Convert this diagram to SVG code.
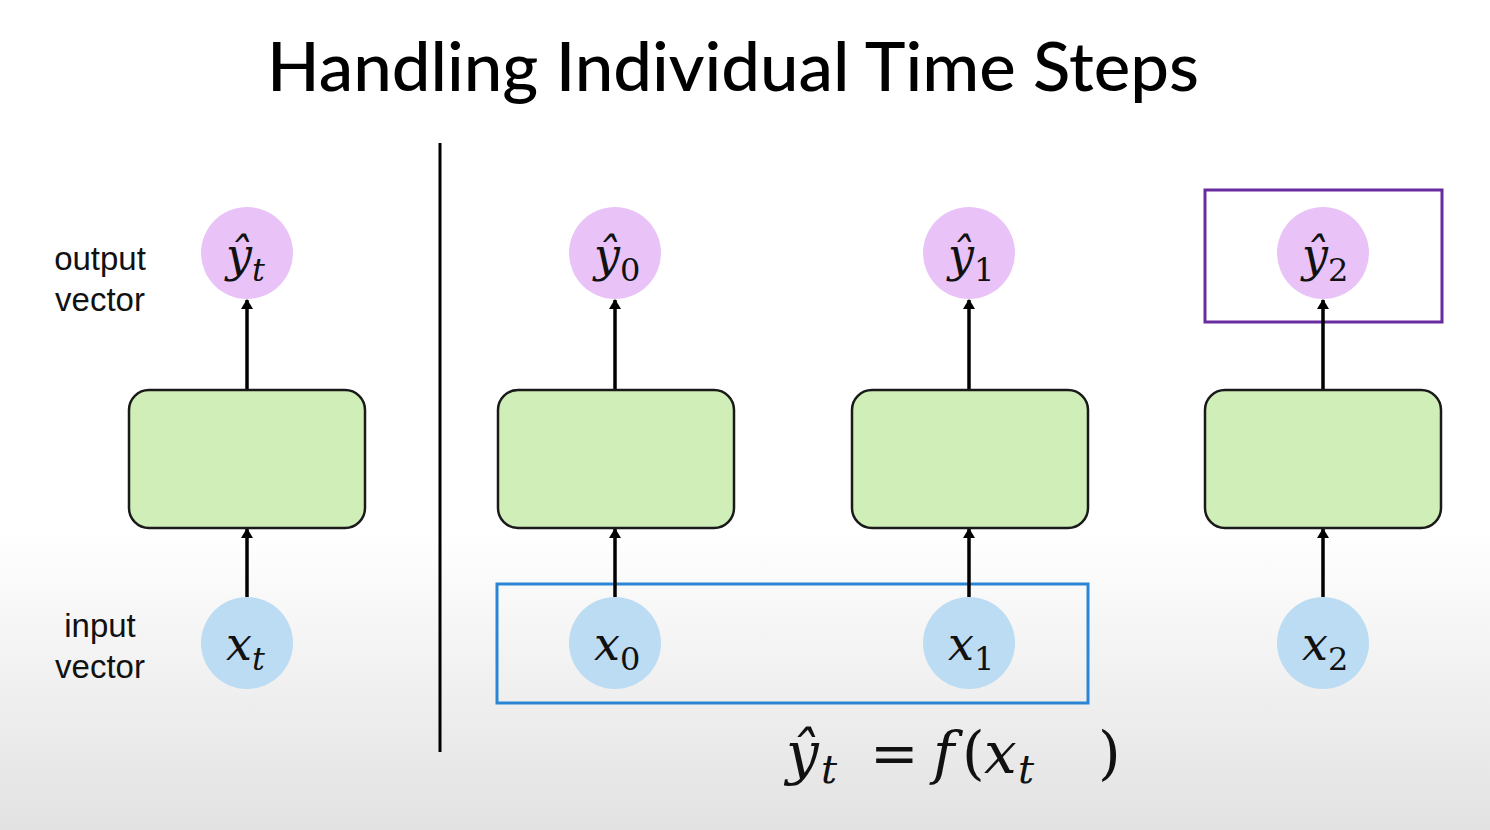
<svg xmlns="http://www.w3.org/2000/svg" width="1490" height="830" viewBox="0 0 1490 830">
<defs>
<linearGradient id="bg" x1="0" y1="0" x2="0" y2="1">
<stop offset="0" stop-color="#ffffff"/>
<stop offset="0.64" stop-color="#ffffff"/>
<stop offset="1" stop-color="#e2e2e2"/>
</linearGradient>
<marker id="ah" viewBox="0 0 10 12" refX="9" refY="6" markerWidth="11" markerHeight="12" markerUnits="userSpaceOnUse" orient="auto">
<path d="M0,0 L10,6 L0,12 z" fill="#000"/>
</marker>
</defs>
<style>
.box{fill:#d0efb8;stroke:#1a1a1a;stroke-width:2.5}
.out{fill:#e9c3f7}
.in{fill:#bcdcf3}
.lbl{font-family:"Liberation Sans",Arial,sans-serif;font-size:33px;fill:#111;text-anchor:middle}
.m{font-family:"DejaVu Serif","Liberation Serif",serif;fill:#111}
.it{font-style:italic}
.edge{stroke:#000;stroke-width:3.5;fill:none;marker-end:url(#ah)}
</style>
<rect width="1490" height="830" fill="url(#bg)"/>
<text x="733" y="91" font-family="Lato,'Open Sans',sans-serif" font-size="68" font-weight="500" fill="#000" text-anchor="middle" textLength="932" lengthAdjust="spacingAndGlyphs">Handling Individual Time Steps</text>
<line x1="440" y1="143" x2="440" y2="752" stroke="#000" stroke-width="3"/>
<text class="lbl" x="100" y="270">output</text>
<text class="lbl" x="100" y="311">vector</text>
<text class="lbl" x="100" y="637">input</text>
<text class="lbl" x="100" y="678">vector</text>
<rect x="1205" y="190" width="237" height="132" fill="none" stroke="#6a2aa0" stroke-width="3"/>
<rect x="497" y="584" width="591" height="119" fill="none" stroke="#2a86d4" stroke-width="3"/>
<g id="connectors">
<line class="edge" x1="247" y1="390" x2="247" y2="300"/>
<line class="edge" x1="247" y1="597" x2="247" y2="529"/>
<line class="edge" x1="615" y1="390" x2="615" y2="300"/>
<line class="edge" x1="615" y1="597" x2="615" y2="529"/>
<line class="edge" x1="969" y1="390" x2="969" y2="300"/>
<line class="edge" x1="969" y1="597" x2="969" y2="529"/>
<line class="edge" x1="1323" y1="390" x2="1323" y2="300"/>
<line class="edge" x1="1323" y1="597" x2="1323" y2="529"/>
</g>
<g id="cell-t"><rect class="box" x="129" y="390" width="236" height="138" rx="20"/></g>
<g id="cell-0"><rect class="box" x="498" y="390" width="236" height="138" rx="20"/></g>
<g id="cell-1"><rect class="box" x="852" y="390" width="236" height="138" rx="20"/></g>
<g id="cell-2"><rect class="box" x="1205" y="390" width="236" height="138" rx="20"/></g>
<g id="yt"><circle class="out" cx="247" cy="253" r="46"/><text class="m" x="226" y="271" font-size="46"><tspan class="it">ŷ</tspan><tspan class="it" font-size="32" dy="10">t</tspan></text></g>
<g id="y0"><circle class="out" cx="615" cy="253" r="46"/><text class="m" x="594" y="271" font-size="46"><tspan class="it">ŷ</tspan><tspan font-size="32" dy="10">0</tspan></text></g>
<g id="y1"><circle class="out" cx="969" cy="253" r="46"/><text class="m" x="948" y="271" font-size="46"><tspan class="it">ŷ</tspan><tspan font-size="32" dy="10">1</tspan></text></g>
<g id="y2"><circle class="out" cx="1323" cy="253" r="46"/><text class="m" x="1302" y="271" font-size="46"><tspan class="it">ŷ</tspan><tspan font-size="32" dy="10">2</tspan></text></g>
<g id="xt"><circle class="in" cx="247" cy="643" r="46"/><text class="m" x="226" y="660" font-size="46"><tspan class="it">x</tspan><tspan class="it" font-size="32" dy="10">t</tspan></text></g>
<g id="x0"><circle class="in" cx="615" cy="643" r="46"/><text class="m" x="594" y="660" font-size="46"><tspan class="it">x</tspan><tspan font-size="32" dy="10">0</tspan></text></g>
<g id="x1"><circle class="in" cx="969" cy="643" r="46"/><text class="m" x="948" y="660" font-size="46"><tspan class="it">x</tspan><tspan font-size="32" dy="10">1</tspan></text></g>
<g id="x2"><circle class="in" cx="1323" cy="643" r="46"/><text class="m" x="1302" y="660" font-size="46"><tspan class="it">x</tspan><tspan font-size="32" dy="10">2</tspan></text></g>
<text class="m" y="773" font-size="58"><tspan class="it" x="786">ŷ</tspan><tspan class="it" font-size="40" x="821" y="783">t</tspan><tspan x="870" y="773">=</tspan><tspan class="it" x="933">f</tspan><tspan x="962">(</tspan><tspan class="it" x="984">x</tspan><tspan class="it" font-size="40" x="1018" y="783">t</tspan><tspan x="1098" y="773">)</tspan></text>
</svg>
